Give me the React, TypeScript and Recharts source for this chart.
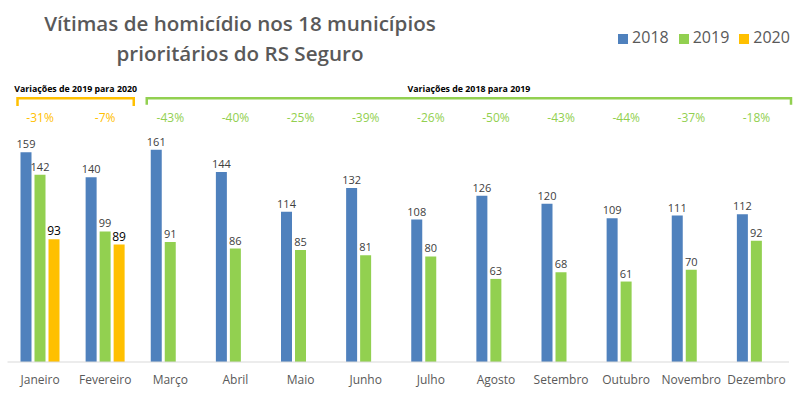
import React from 'react';
import {
  BarChart, Bar, XAxis, YAxis, Legend, LabelList, ReferenceArea, ReferenceDot,
} from 'recharts';

const COLOR_2018 = '#4F81BD';
const COLOR_2019 = '#92D050';
const COLOR_2020 = '#FFC000';
const FONT = '"Open Sans", "Noto Sans", sans-serif';

const months = [
  'Janeiro', 'Fevereiro', 'Março', 'Abril', 'Maio', 'Junho',
  'Julho', 'Agosto', 'Setembro', 'Outubro', 'Novembro', 'Dezembro',
];
const values2018 = [159, 140, 161, 144, 114, 132, 108, 126, 120, 109, 111, 112];
const values2019 = [142, 99, 91, 86, 85, 81, 80, 63, 68, 61, 70, 92];
const values2020 = [93, 89, null, null, null, null, null, null, null, null, null, null];
const variations = ['-31%', '-7%', '-43%', '-40%', '-25%', '-39%', '-26%', '-50%', '-43%', '-44%', '-37%', '-18%'];

const data = months.map((m, i) => ({
  month: m,
  y2018: values2018[i],
  y2019: values2019[i],
  y2020: values2020[i],
}));

// bracket drawn over a band range, with a bold caption above
const bracket = (color: string, caption: string, padL: number, padR: number) => (p: any) => {
  const x1 = p.x + padL;
  const x2 = p.x + p.width + padR;
  const top = p.y;
  const bottom = p.y + p.height;
  return (
    <g>
      <path
        d={`M${x1},${bottom} L${x1},${top} L${x2},${top} L${x2},${bottom}`}
        fill="none"
        stroke={color}
        strokeWidth={2.5}
      />
      <text
        x={(x1 + x2) / 2}
        y={top - 9}
        textAnchor="middle"
        dominantBaseline="central"
        fontSize={8.8}
        fontWeight={700}
        fill="#000"
      >
        {caption}
      </text>
    </g>
  );
};

const pctLabel = (text: string, color: string) => (p: any) => (
  <text x={p.cx} y={p.cy} textAnchor="middle" dominantBaseline="central" fontSize={12} fill={color}>
    {text}
  </text>
);

export default function App() {
  return (
    <div style={{ position: 'absolute', left: 0, top: 0, width: 800, height: 394, background: '#fff', fontFamily: FONT }}>
      <div
        style={{
          position: 'absolute', left: 0, top: 8, width: 480, textAlign: 'center',
          fontSize: 20.6, fontWeight: 600, lineHeight: '30px', color: '#595959',
        }}
      >
        Vítimas de homicídio nos 18 municípios
        <br />
        prioritários do RS Seguro
      </div>
      <BarChart
        width={800}
        height={394}
        data={data}
        margin={{ top: 85, right: 11, left: 7.5, bottom: 7 }}
        barSize={11}
        barGap={3}
      >
        <XAxis
          dataKey="month"
          interval={0}
          tickLine={false}
          axisLine={{ stroke: '#D9D9D9' }}
          tick={{ fill: '#595959', fontSize: 12 }}
          tickMargin={7}
          height={25}
        />
        <YAxis hide domain={[0, 210]} />
        <Legend
          layout="horizontal"
          verticalAlign="middle"
          align="center"
          iconType="square"
          iconSize={10}
          wrapperStyle={{ top: 26, left: 614, width: 190, fontSize: 16 }}
          formatter={(v: string) => <span style={{ color: '#595959' }}>{v}</span>}
        />
        <ReferenceArea
          x1="Janeiro"
          x2="Fevereiro"
          y1={194}
          y2={200}
          shape={bracket(COLOR_2020, 'Variações de 2019 para 2020', 10, -4)}
        />
        <ReferenceArea
          x1="Março"
          x2="Dezembro"
          y1={195}
          y2={200}
          shape={bracket(COLOR_2019, 'Variações de 2018 para 2019', 9, 2)}
        />
        {months.map((m, i) => (
          <ReferenceDot
            key={m}
            x={m}
            y={185}
            r={0}
            shape={pctLabel(variations[i], i < 2 ? COLOR_2020 : COLOR_2019)}
          />
        ))}
        <Bar dataKey="y2018" name="2018" fill={COLOR_2018} isAnimationActive={false}>
          <LabelList dataKey="y2018" position="top" offset={4} fill="#404040" fontSize={11} />
        </Bar>
        <Bar dataKey="y2019" name="2019" fill={COLOR_2019} isAnimationActive={false}>
          <LabelList dataKey="y2019" position="top" offset={4} fill="#404040" fontSize={11} />
        </Bar>
        <Bar dataKey="y2020" name="2020" fill={COLOR_2020} isAnimationActive={false}>
          <LabelList dataKey="y2020" position="top" offset={4} fill="#000" fontSize={12} fontWeight={500} />
        </Bar>
      </BarChart>
    </div>
  );
}
